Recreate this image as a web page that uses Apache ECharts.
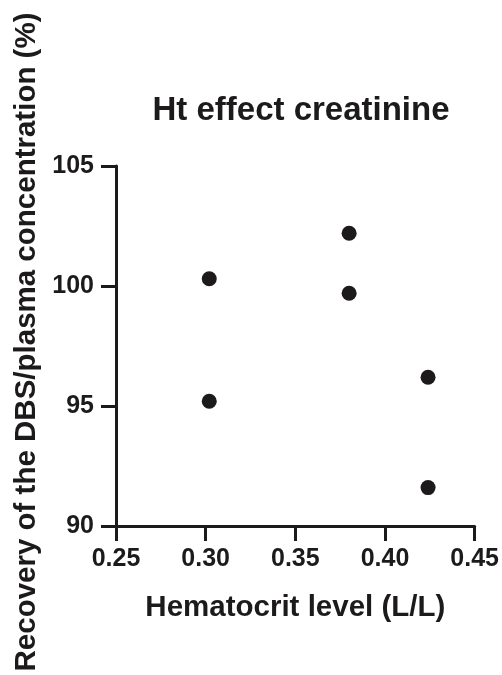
<!DOCTYPE html>
<html>
<head>
<meta charset="utf-8">
<script src="https://cdn.jsdelivr.net/npm/echarts@6/dist/echarts.min.js"></script>
<style>
  html, body { margin: 0; padding: 0; background: #fff; }
  #chart { width: 502px; height: 675px; }
</style>
</head>
<body>
<div id="chart"></div>
<script>
// hematocrit level (L/L) and recovery (%)
const hematocrit = [0.302, 0.302, 0.38, 0.38, 0.424, 0.424];
const recovery = [100.3, 95.2, 102.2, 99.7, 96.2, 91.6];
const xTicks = [0.25, 0.3, 0.35, 0.4, 0.45];
const yTicks = [90, 95, 100, 105];

const ink = "#1c1a1b";
const font = "'Liberation Sans', Arial, sans-serif";

const myChart = echarts.init(document.getElementById("chart"));

let option = {
  animation: false,
  title: {
    text: "Ht effect creatinine",
    left: 296,
    textAlign: "center",
    top: 89,
    textStyle: { fontFamily: font, fontSize: 33, fontWeight: "bold", color: ink },
  },
  grid: { left: 116, right: 27, top: 166, bottom: 149 },
  xAxis: {
    type: "value",
    min: 0.25,
    max: 0.45,
    interval: 0.05,
    name: "Hematocrit level (L/L)",
    nameLocation: "middle",
    nameGap: 67,
    nameTextStyle: { fontFamily: font, fontSize: 29.5, fontWeight: "bold", color: ink },
    axisLine: { lineStyle: { color: ink, width: 3 } },
    axisTick: { show: true, length: 15, lineStyle: { color: ink, width: 3 } },
    axisLabel: {
      fontFamily: font,
      fontSize: 25,
      fontWeight: "bold",
      color: ink,
      margin: 21,
      formatter: (v) => v.toFixed(2),
    },
    splitLine: { show: false },
  },
  yAxis: {
    type: "value",
    min: 90,
    max: 105,
    interval: 5,
    name: "Recovery of the DBS/plasma concentration (%)",
    nameLocation: "middle",
    nameGap: 73,
    nameTextStyle: {
      fontFamily: font,
      fontSize: 29.5,
      fontWeight: "bold",
      color: ink,
      padding: [0, 0, 0, 8],
    },
    axisLine: { show: true, lineStyle: { color: ink, width: 3 } },
    axisTick: { show: true, length: 15, lineStyle: { color: ink, width: 3 } },
    axisLabel: {
      fontFamily: font,
      fontSize: 25,
      fontWeight: "bold",
      color: ink,
      margin: 22,
    },
    splitLine: { show: false },
  },
  series: [
    {
      type: "scatter",
      symbol: "circle",
      symbolSize: 15,
      itemStyle: { color: ink, opacity: 1 },
      data: hematocrit.map((h, i) => [h, recovery[i]]),
    },
  ],
};
myChart.setOption(option);
</script>
</body>
</html>
